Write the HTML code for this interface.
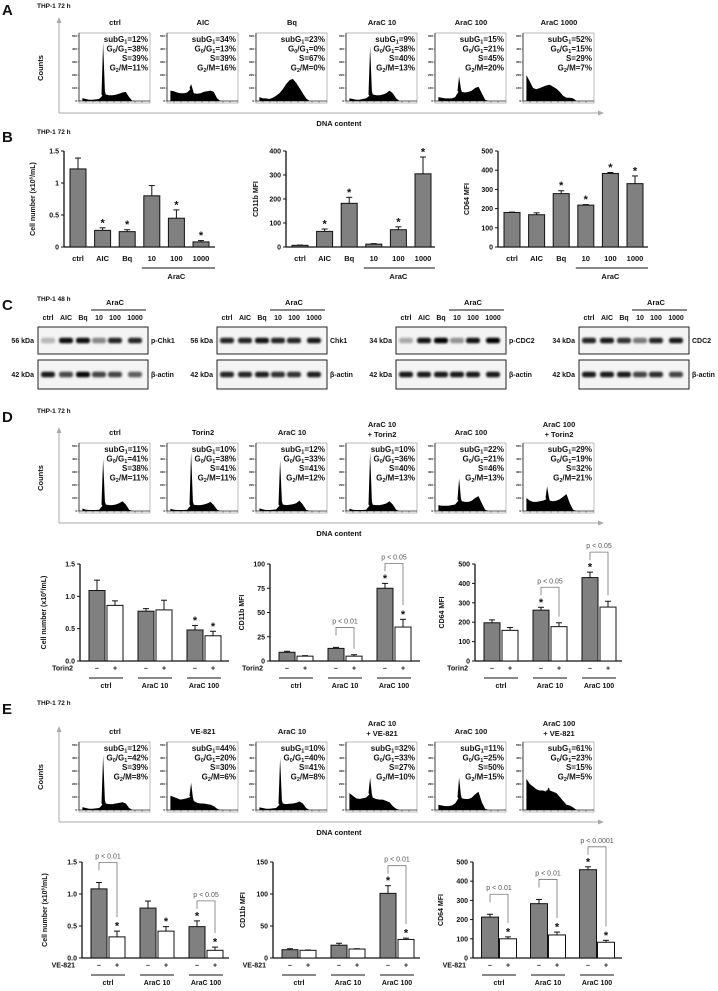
<!DOCTYPE html>
<html><head><meta charset="utf-8"><style>
html,body{margin:0;padding:0;background:#fff;}
svg{display:block;font-family:"Liberation Sans",Arial,sans-serif;}
</style></head><body>
<svg id="fig" width="718" height="991" viewBox="0 0 718 991" xmlns="http://www.w3.org/2000/svg">
<defs><filter id="blur" x="-50%" y="-100%" width="200%" height="300%"><feGaussianBlur stdDeviation="1.1"/></filter></defs>
</svg>
<script>
// ---------- DATA ----------
const aTitles=["ctrl","AIC","Bq","AraC 10","AraC 100","AraC 1000"];
const aStats=[["12","38","39","11"],["34","13","39","16"],["23","0","67","0"],["9","38","40","13"],["15","21","45","20"],["52","15","29","7"]];
const aProfiles=[
[22,15,10,10,12,15,40,50,45,45,48,55,65,70,30,0],
[80,75,65,60,60,65,90,60,55,60,70,75,80,70,20,0],
[30,20,20,15,25,40,60,90,130,160,170,140,100,60,20,0],
[20,15,10,10,15,20,40,50,45,45,50,60,80,60,20,0],
[30,25,20,20,20,30,70,70,65,70,80,100,110,60,10,0],
[200,150,100,90,100,110,120,125,110,95,70,40,25,25,20,0]];
const aSpikes=[450,130,0,420,190,0];
const bCats=["ctrl","AIC","Bq","10","100","1000"];
const b1Vals=[1.22,0.26,0.24,0.80,0.45,0.08];
const b1Errs=[0.17,0.04,0.03,0.16,0.13,0.02];
const b1Stars=[0,1,1,0,1,1];
const b1Ticks=[0,0.5,1,1.5];
const b1TickLabels=["0","0.5","1","1.5"];
const b2Vals=[7,65,182,12,72,305];
const b2Errs=[1,10,25,2,12,70];
const b2Stars=[0,1,1,0,1,1];
const b2Ticks=[0,100,200,300,400];
const b3Vals=[180,168,278,218,383,330];
const b3Errs=[2,10,15,3,5,40];
const b3Stars=[0,0,1,1,1,1];
const b3Ticks=[0,100,200,300,400,500];
const cLanes=["ctrl","AIC","Bq","10","100","1000"];
const cProteins=["p-Chk1","Chk1","p-CDC2","CDC2"];
const cKda=["56 kDa","56 kDa","34 kDa","34 kDa"];
const cTopBands=[[0.25,0.95,0.95,0.45,0.85,0.85],[0.85,0.85,0.92,0.85,0.85,0.9],[0.3,0.92,1,0.4,0.92,1],[0.85,0.9,0.8,0.5,0.85,0.9]];
const cActinBands=[[0.9,0.7,0.98,0.72,0.72,0.62],[0.85,0.85,0.88,0.8,0.8,0.88],[0.9,0.9,0.9,0.9,0.9,0.9],[0.9,0.9,0.9,0.72,0.82,0.72]];
const dTitles=[["ctrl"],["Torin2"],["AraC 10"],["AraC 10","+ Torin2"],["AraC 100"],["AraC 100","+ Torin2"]];
const dStats=[["11","41","38","11"],["10","38","41","11"],["12","33","41","12"],["10","36","40","13"],["22","21","46","13"],["29","19","32","21"]];
const dProfiles=[
[20,10,8,8,8,10,40,50,45,45,50,60,75,50,10,0],
[18,10,8,8,8,10,40,48,45,45,50,58,70,45,10,0],
[20,12,8,8,10,12,40,50,45,48,52,60,80,50,10,0],
[18,10,8,8,8,10,40,48,45,45,50,58,75,50,10,0],
[45,40,40,40,45,50,80,75,70,70,80,100,115,60,10,0],
[100,80,70,70,75,80,90,80,75,80,90,110,130,60,10,0]];
const dSpikes=[400,450,390,450,250,190];
const pairGroups=["ctrl","AraC 10","AraC 100"];
const d1Vals=[1.09,0.86,0.77,0.79,0.48,0.39];
const d1Errs=[0.16,0.07,0.04,0.15,0.07,0.07];
const d1Stars=[0,0,0,0,1,1];
const d1Ticks=[0,0.5,1,1.5];
const d1TickLabels=["0.0","0.5","1.0","1.5"];
const d1P=["","",""];
const d2Vals=[9,5,13,5,75,35];
const d2Errs=[1,0.5,1,1.5,5,8];
const d2Stars=[0,0,0,0,1,1];
const d2Ticks=[0,25,50,75,100];
const d2P=["","p < 0.01","p < 0.05"];
const d3Vals=[197,158,262,177,430,278];
const d3Errs=[15,15,15,20,28,30];
const d3Stars=[0,0,1,0,1,0];
const d3Ticks=[0,100,200,300,400,500];
const d3P=["","p < 0.05","p < 0.05"];
const eTitles=[["ctrl"],["VE-821"],["AraC 10"],["AraC 10","+ VE-821"],["AraC 100"],["AraC 100","+ VE-821"]];
const eStats=[["12","42","39","8"],["44","20","30","6"],["10","40","41","8"],["32","33","27","10"],["11","25","50","15"],["61","23","15","5"]];
const eProfiles=[
[22,15,10,10,12,15,40,50,45,45,50,55,60,50,15,0],
[110,100,90,80,85,90,100,70,55,50,50,45,40,30,10,0],
[20,15,10,10,12,15,40,50,45,48,50,55,65,50,15,0],
[130,110,90,85,90,95,120,95,85,80,80,70,60,30,10,0],
[40,35,30,30,35,50,90,90,85,85,95,120,140,60,10,0],
[240,200,180,160,150,150,140,150,140,130,100,70,40,35,20,0]];
const eSpikes=[420,210,400,250,250,150];
const e1Vals=[1.08,0.33,0.78,0.42,0.49,0.12];
const e1Errs=[0.10,0.09,0.11,0.07,0.09,0.05];
const e1Stars=[0,1,0,1,1,1];
const e1P=["p < 0.01","","p < 0.05"];
const e2Vals=[13,12,20,14,101,29];
const e2Errs=[1.5,0.5,3,0.5,12,2];
const e2Stars=[0,0,0,0,1,1];
const e2Ticks=[0,50,100,150];
const e2P=["","","p < 0.01"];
const e3Vals=[213,100,283,120,460,82];
const e3Errs=[15,10,22,15,15,10];
const e3Stars=[0,1,0,1,1,1];
const e3P=["p < 0.01","p < 0.01","p < 0.0001"];

// ---------- HELPERS ----------
const NS="http://www.w3.org/2000/svg";
const svg=document.getElementById('fig');
function mk(tag,attrs,name,parent){
  const e=document.createElementNS(NS,tag);
  for(const k in attrs) e.setAttribute(k,attrs[k]);
  
  
  (parent||svg).appendChild(e);
  return e;
}
function T(x,y,s,size,name,opt){
  opt=opt||{};
  const e=mk('text',{x:x,y:y,'font-size':size,'font-weight':opt.w||'bold','text-anchor':opt.a||'start',fill:opt.f||'#111'},name,opt.p);
  if(opt.rot) e.setAttribute('transform','rotate(-90 '+x+' '+y+')');
  e.textContent=s;
  return e;
}
function L(x1,y1,x2,y2,name,st,w){return mk('line',{x1:x1,y1:y1,x2:x2,y2:y2,stroke:st||'#111','stroke-width':w||1},name);}
function arrowHead(x,y,dir,name){
  const pts=dir==='up'?[[x,y],[x-2.5,y+6],[x+2.5,y+6]]:[[x,y],[x-6,y-2.5],[x-6,y+2.5]];
  mk('polygon',{points:pts.map(p=>p.join(',')).join(' '),fill:'#aaa'},name);
}

const histX=[79,167,256,346,435,523];
function histRow(top,titles,stats,profiles,spikes,prefix){
  const g=mk('g',{},prefix+'-histograms');
  titles.forEach((t,i)=>{
    const cx=histX[i]+36;
    if(t.length===1){
      T(cx,top-8,t[0],7.5,prefix+'-title',{a:'middle',p:g});
    } else {
      T(cx,top-16,t[0],7.5,prefix+'-title',{a:'middle',p:g});
      T(cx,top-6,t[1],7.5,prefix+'-title',{a:'middle',p:g});
    }
  });
  for(let i=0;i<6;i++){
    const bx=histX[i],by=top;
    const hg=mk('g',{},prefix+'-histogram',g);
    mk('rect',{x:bx,y:by,width:71,height:70,fill:'#fff',stroke:'#aaa','stroke-width':0.8},'histogram-frame',hg);
    const base=by+68,ytop=by+3;
    const ys=c=>base-(c/500)*(base-ytop);
    mk('line',{x1:bx,y1:by,x2:bx,y2:base,stroke:'#222','stroke-width':0.8},'histogram-y-axis',hg);
    mk('line',{x1:bx,y1:base,x2:bx+71,y2:base,stroke:'#222','stroke-width':0.8},'histogram-x-axis',hg);
    [0,100,200,300,400,500].forEach(v=>{
      mk('line',{x1:bx-1.5,y1:ys(v),x2:bx,y2:ys(v),stroke:'#222','stroke-width':0.5},'histogram-tick',hg);
      T(bx-2,ys(v)+1.2,String(v),3,'histogram-tick-label',{a:'end',p:hg});
    });
    for(let k=1;k<10;k++) mk('line',{x1:bx+k*7,y1:base,x2:bx+k*7,y2:base+1.5,stroke:'#222','stroke-width':0.5},'histogram-x-tick',hg);
    const prof=profiles[i];
    const xf=j=>bx+2+(0.02+j*0.047)*71;
    let pts=[[xf(0),base]];
    prof.forEach((c,j)=>{
      pts.push([xf(j),ys(c)]);
      if(j===6&&spikes[i]>0){
        const sx=bx+0.34*71;
        pts.push([sx-1.6,ys(c+10)]);
        pts.push([sx,ys(spikes[i])]);
        pts.push([sx+1.8,ys(prof[7]+25)]);
      }
    });
    pts.push([xf(prof.length-1),base]);
    mk('polygon',{points:pts.map(p=>p[0].toFixed(1)+','+p[1].toFixed(1)).join(' '),fill:'#000'},'histogram-area',hg);
    const st=stats[i];
    const tx=bx+69,f=8;
    let t=T(tx,by+9,'',f,'stat-subg1',{a:'end',p:hg});
    t.innerHTML='subG<tspan font-size="5.5" dy="1.5">1</tspan><tspan dy="-1.5">='+st[0]+'%</tspan>';
    t=T(tx,by+18.5,'',f,'stat-g0g1',{a:'end',p:hg});
    t.innerHTML='G<tspan font-size="5.5" dy="1.5">0</tspan><tspan dy="-1.5">/G</tspan><tspan font-size="5.5" dy="1.5">1</tspan><tspan dy="-1.5">='+st[1]+'%</tspan>';
    T(tx,by+28,'S='+st[2]+'%',f,'stat-s',{a:'end',p:hg});
    t=T(tx,by+37.5,'',f,'stat-g2m',{a:'end',p:hg});
    t.innerHTML='G<tspan font-size="5.5" dy="1.5">2</tspan><tspan dy="-1.5">/M='+st[3]+'%</tspan>';
  }
  L(59,top+80,59,top-13,prefix+'-counts-arrow','#aaa',1);
  arrowHead(59,top-16,'up',prefix+'-counts-arrowhead');
  L(59,top+80,600,top+80,prefix+'-dna-arrow','#aaa',1);
  arrowHead(604,top+80,'right',prefix+'-dna-arrowhead');
  T(43,top+35,'Counts',7.5,prefix+'-y-title',{a:'middle',rot:true});
  T(339,top+93,'DNA content',7.5,prefix+'-x-title',{a:'middle'});
}

function barChart(cfg){
  const g=mk('g',{},cfg.name);
  const {ax,top,bot,xEnd,ymax}=cfg;
  const y=v=>bot-(v/ymax)*(bot-top);
  mk('line',{x1:ax,y1:top,x2:ax,y2:bot,stroke:'#111','stroke-width':1.3},'y-axis',g);
  mk('line',{x1:ax,y1:bot,x2:xEnd,y2:bot,stroke:'#111','stroke-width':1.3},'x-axis',g);
  cfg.ticks.forEach((v,i)=>{
    mk('line',{x1:ax-3,y1:y(v),x2:ax,y2:y(v),stroke:'#111','stroke-width':1},'y-tick',g);
    T(ax-5,y(v)+2.5,cfg.tickLabels?cfg.tickLabels[i]:String(v),7,'y-tick-label',{a:'end',p:g});
  });
  T(cfg.titleX,(top+bot)/2,'',7,'y-axis-title',{a:'middle',rot:true,p:g}).innerHTML=cfg.title;
  const tops=[];
  cfg.vals.forEach((v,i)=>{
    const cx=cfg.xOf(i);
    const e=cfg.errs[i];
    const fill=cfg.fill(i);
    const yt=y(v+e);
    tops.push(yt);
    mk('line',{x1:cx,y1:y(v),x2:cx,y2:yt,stroke:'#111','stroke-width':1},'error-bar',g);
    mk('line',{x1:cx-3,y1:yt,x2:cx+3,y2:yt,stroke:'#111','stroke-width':1},'error-cap',g);
    mk('rect',{x:cx-cfg.bw/2,y:y(v),width:cfg.bw,height:bot-y(v),fill:fill,stroke:'#111','stroke-width':1},'bar-'+i,g);
    if(cfg.stars[i]) T(cx,yt-1.5,'*',11,'significance-star',{a:'middle',p:g});
  });
  if(cfg.pvals){
    cfg.pvals.forEach((p,gi)=>{
      if(!p) return;
      const i0=gi*2,i1=gi*2+1;
      const x0=cfg.xOf(i0),x1=cfg.xOf(i1);
      const by=Math.min(tops[i0],tops[i1])-20;
      const rEnd=tops[i1]-(cfg.stars[i1]?14:6);
      const lEnd=by+8;
      mk('polyline',{points:x0+','+lEnd+' '+x0+','+by+' '+x1+','+by+' '+x1+','+rEnd,fill:'none',stroke:'#777','stroke-width':0.8},'p-value-bracket',g);
      T((x0+x1)/2,by-4,p,7,'p-value-label',{a:'middle',p:g,w:'normal',f:'#555'});
    });
  }
  return {g,y};
}
function simpleCats(cfg){
  cfg.cats.forEach((c,i)=>T(cfg.xOf(i),cfg.bot+14,c,7.5,'x-category-label',{a:'middle'}));
  L(cfg.xOf(3)-10,cfg.bot+21,cfg.xEnd,cfg.bot+21,'arac-group-line','#111',1);
  T((cfg.xOf(3)+cfg.xOf(5))/2,cfg.bot+32,'AraC',7.5,'arac-group-label',{a:'middle'});
}
function pairCats(cfg,treat){
  T(cfg.ax-7,cfg.bot+9.5,treat,7,'treatment-label',{a:'end'});
  for(let gi=0;gi<3;gi++){
    const x0=cfg.xOf(gi*2),x1=cfg.xOf(gi*2+1);
    T(x0,cfg.bot+9.5,'\u2013',7,'minus-sign',{a:'middle'});
    T(x1,cfg.bot+9.5,'+',7,'plus-sign',{a:'middle'});
    L(x0-8,cfg.bot+17,x1+8,cfg.bot+17,'group-line','#111',0.9);
    T((x0+x1)/2,cfg.bot+27,pairGroups[gi],7,'group-label',{a:'middle'});
  }
}
const catX=(ax)=>(i=>ax+14+i*24.6);
const pairX=(ax,step)=>(i=>ax+17+Math.floor(i/2)*(step||49)+(i%2)*18);
const greyOpen=i=>i%2===0?'#808080':'#fff';
const cellTitle='Cell number (x10<tspan font-size="4.5" dy="-2.5">6</tspan><tspan dy="2.5">/mL)</tspan>';

// ---------- PANEL A ----------
T(2,15,'A',15,'panel-label-a');
T(37,8,'THP-1 72 h',6.5,'panel-a-condition');
histRow(33,aTitles.map(t=>[t]),aStats,aProfiles,aSpikes,'panel-a');

// ---------- PANEL B ----------
T(2,142,'B',15,'panel-label-b');
T(37,134,'THP-1 72 h',6.5,'panel-b-condition');
let c;
c={name:'chart-b-cell-number',ax:64,top:151,bot:247,xEnd:215,ymax:1.5,ticks:b1Ticks,tickLabels:b1TickLabels,vals:b1Vals,errs:b1Errs,stars:b1Stars,bw:16,fill:()=>'#808080',title:cellTitle,titleX:35,xOf:catX(64),cats:bCats};
barChart(c);simpleCats(c);
c={name:'chart-b-cd11b',ax:286,top:151,bot:247,xEnd:435,ymax:400,ticks:b2Ticks,vals:b2Vals,errs:b2Errs,stars:b2Stars,bw:16,fill:()=>'#808080',title:'CD11b MFI',titleX:258,xOf:catX(286),cats:bCats};
barChart(c);simpleCats(c);
c={name:'chart-b-cd64',ax:498,top:151,bot:247,xEnd:648,ymax:500,ticks:b3Ticks,vals:b3Vals,errs:b3Errs,stars:b3Stars,bw:16,fill:()=>'#808080',title:'CD64 MFI',titleX:469,xOf:catX(498),cats:bCats};
barChart(c);simpleCats(c);

// ---------- PANEL C ----------
T(2,310,'C',15,'panel-label-c');
T(37,301,'THP-1 48 h',6.5,'panel-c-condition');
const blotX=[38,217,396,579];
const laneOff=[10,28,45,61,77,97];
blotX.forEach((bx,bi)=>{
  const g=mk('g',{},'blot-'+cProteins[bi]);
  T(bx+laneOff[4],305,'AraC',7.5,'blot-arac-label',{a:'middle',p:g});
  mk('line',{x1:bx+laneOff[3]-8,y1:310,x2:bx+108,y2:310,stroke:'#111','stroke-width':0.9},'blot-arac-line',g);
  cLanes.forEach((l,li)=>T(bx+laneOff[li],320,l,7,'lane-label',{a:'middle',p:g}));
  [[327,354,cTopBands[bi],cProteins[bi],cKda[bi]],[360,389,cActinBands[bi],'\u03b2-actin','42 kDa']].forEach(r=>{
    mk('rect',{x:bx,y:r[0],width:110,height:r[1]-r[0],fill:'#f4f4f4',stroke:'#222','stroke-width':1},'blot-frame',g);
    const cy=(r[0]+r[1])/2;
    r[2].forEach((inten,li)=>{
      mk('rect',{x:bx+laneOff[li]-7,y:cy-2.8,width:14,height:5.6,rx:2.5,fill:'#000','fill-opacity':inten,filter:'url(#blur)'},'blot-band',g);
    });
    T(bx-4,cy+2.5,r[4],7,'kda-label',{a:'end',p:g});
    T(bx+113,cy+2.5,r[3],7,'protein-label',{p:g});
  });
});

// ---------- PANEL D ----------
T(2,422,'D',15,'panel-label-d');
T(37,413,'THP-1 72 h',6.5,'panel-d-condition');
histRow(443,dTitles,dStats,dProfiles,dSpikes,'panel-d');
c={name:'chart-d-cell-number',ax:80,top:564,bot:661,xEnd:229,ymax:1.5,ticks:d1Ticks,tickLabels:d1TickLabels,vals:d1Vals,errs:d1Errs,stars:d1Stars,bw:16,fill:greyOpen,title:cellTitle,titleX:46,xOf:pairX(80),pvals:d1P};
barChart(c);pairCats(c,'Torin2');
c={name:'chart-d-cd11b',ax:270,top:564,bot:661,xEnd:420,ymax:100,ticks:d2Ticks,vals:d2Vals,errs:d2Errs,stars:d2Stars,bw:16,fill:greyOpen,title:'CD11b MFI',titleX:244,xOf:pairX(270),pvals:d2P};
barChart(c);pairCats(c,'Torin2');
c={name:'chart-d-cd64',ax:475,top:564,bot:661,xEnd:622,ymax:500,ticks:d3Ticks,vals:d3Vals,errs:d3Errs,stars:d3Stars,bw:16,fill:greyOpen,title:'CD64 MFI',titleX:444,xOf:pairX(475),pvals:d3P};
barChart(c);pairCats(c,'Torin2');

// ---------- PANEL E ----------
T(2,714,'E',15,'panel-label-e');
T(37,705,'THP-1 72 h',6.5,'panel-e-condition');
histRow(742,eTitles,eStats,eProfiles,eSpikes,'panel-e');
c={name:'chart-e-cell-number',ax:82,top:862,bot:958,xEnd:229,ymax:1.5,ticks:d1Ticks,tickLabels:d1TickLabels,vals:e1Vals,errs:e1Errs,stars:e1Stars,bw:16,fill:greyOpen,title:cellTitle,titleX:47,xOf:pairX(82),pvals:e1P};
barChart(c);pairCats(c,'VE-821');
c={name:'chart-e-cd11b',ax:273,top:862,bot:958,xEnd:420,ymax:150,ticks:e2Ticks,vals:e2Vals,errs:e2Errs,stars:e2Stars,bw:16,fill:greyOpen,title:'CD11b MFI',titleX:245,xOf:pairX(273),pvals:e2P};
barChart(c);pairCats(c,'VE-821');
c={name:'chart-e-cd64',ax:473,top:862,bot:958,xEnd:622,ymax:500,ticks:d3Ticks,vals:e3Vals,errs:e3Errs,stars:e3Stars,bw:17,fill:greyOpen,title:'CD64 MFI',titleX:443,xOf:pairX(473),pvals:e3P};
barChart(c);pairCats(c,'VE-821');
</script>
</body></html>
